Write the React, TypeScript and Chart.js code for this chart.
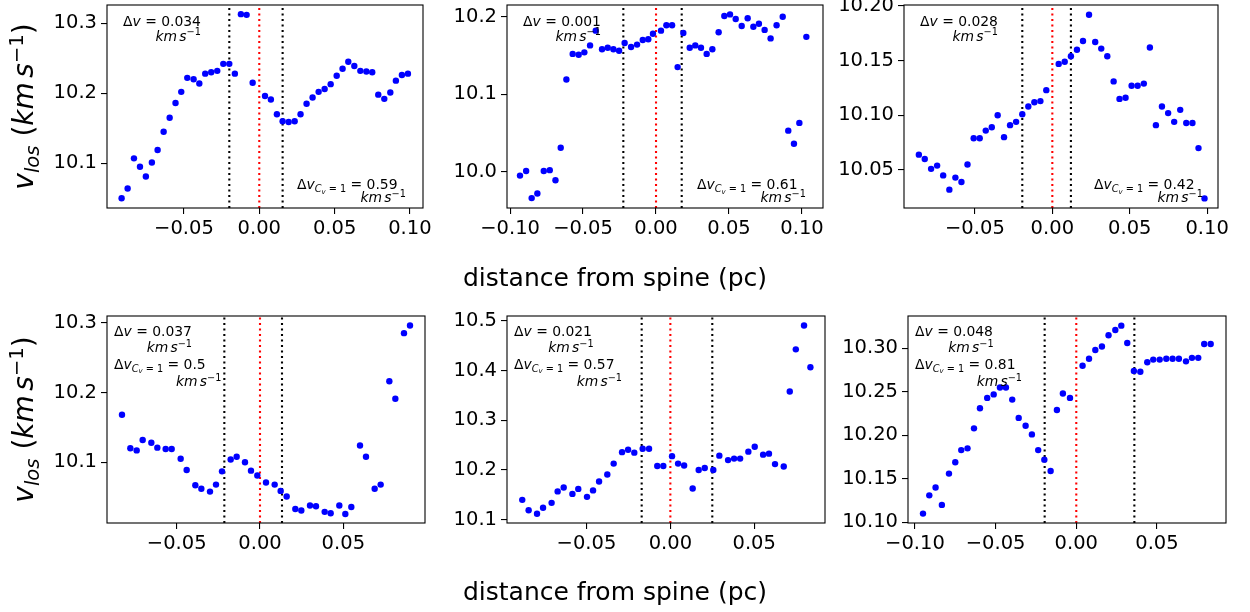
import React, { useEffect, useRef } from 'react';
import { Chart, registerables } from 'chart.js';

Chart.register(...registerables);

const FONT = '"DejaVu Sans", "Liberation Sans", sans-serif';

// ---------------- data ----------------
const p1X = [-0.0914,-0.0874,-0.0832,-0.0792,-0.0753,-0.0713,-0.0675,-0.0635,-0.0595,-0.0556,-0.0518,-0.0478,-0.0436,-0.0398,-0.0359,-0.0319,-0.0279,-0.0239,-0.0199,-0.0162,-0.0122,-0.0084,-0.0044,0.0038,0.0077,0.0117,0.0155,0.0195,0.0235,0.0274,0.0314,0.0354,0.0394,0.0434,0.0474,0.0514,0.0553,0.0591,0.0631,0.0671,0.0711,0.0750,0.0790,0.0830,0.0870,0.0907,0.0947,0.0987];
const p1Y = [10.050,10.064,10.107,10.095,10.081,10.101,10.119,10.145,10.165,10.186,10.202,10.222,10.220,10.214,10.228,10.230,10.232,10.242,10.242,10.228,10.313,10.312,10.215,10.196,10.191,10.170,10.160,10.159,10.160,10.170,10.185,10.194,10.202,10.206,10.213,10.225,10.235,10.245,10.239,10.232,10.231,10.230,10.198,10.192,10.201,10.218,10.226,10.228];

const p2X = [-0.0932,-0.0890,-0.0852,-0.0813,-0.0769,-0.0728,-0.0689,-0.0653,-0.0614,-0.0571,-0.0530,-0.0491,-0.0452,-0.0413,-0.0370,-0.0331,-0.0292,-0.0253,-0.0215,-0.0171,-0.0130,-0.0091,-0.0053,-0.0021,0.0034,0.0071,0.0110,0.0148,0.0187,0.0231,0.0269,0.0308,0.0347,0.0386,0.0429,0.0468,0.0507,0.0546,0.0587,0.0628,0.0667,0.0705,0.0744,0.0785,0.0826,0.0868,0.0906,0.0945,0.0982,0.1030];
const p2Y = [9.995,10.001,9.966,9.972,10.001,10.002,9.989,10.031,10.119,10.152,10.151,10.154,10.163,10.182,10.158,10.160,10.158,10.156,10.166,10.161,10.164,10.170,10.171,10.178,10.182,10.189,10.189,10.135,10.179,10.160,10.163,10.160,10.152,10.158,10.180,10.201,10.203,10.197,10.188,10.198,10.187,10.191,10.183,10.172,10.189,10.200,10.053,10.036,10.063,10.174];

const p3X = [-0.0862,-0.0824,-0.0783,-0.0744,-0.0705,-0.0665,-0.0626,-0.0587,-0.0548,-0.0508,-0.0469,-0.0430,-0.0391,-0.0353,-0.0312,-0.0273,-0.0234,-0.0194,-0.0155,-0.0116,-0.0077,-0.0039,0.0041,0.0080,0.0120,0.0159,0.0198,0.0237,0.0277,0.0316,0.0355,0.0396,0.0434,0.0473,0.0512,0.0551,0.0591,0.0630,0.0669,0.0708,0.0748,0.0787,0.0826,0.0865,0.0905,0.0944,0.0983];
const p3Y = [10.064,10.060,10.051,10.054,10.045,10.032,10.043,10.039,10.055,10.079,10.079,10.086,10.089,10.100,10.080,10.091,10.094,10.101,10.108,10.112,10.113,10.123,10.147,10.149,10.154,10.160,10.168,10.192,10.167,10.161,10.154,10.131,10.115,10.116,10.127,10.127,10.129,10.162,10.091,10.108,10.102,10.094,10.105,10.093,10.093,10.070,10.024];

const p4X = [-0.0828,-0.0778,-0.0740,-0.0704,-0.0652,-0.0616,-0.0566,-0.0530,-0.0476,-0.0440,-0.0388,-0.0352,-0.0300,-0.0264,-0.0228,-0.0176,-0.0140,-0.0090,-0.0054,-0.0016,0.0036,0.0088,0.0124,0.0160,0.0212,0.0248,0.0300,0.0336,0.0388,0.0424,0.0476,0.0512,0.0548,0.0600,0.0636,0.0688,0.0724,0.0776,0.0812,0.0864,0.0900];
const p4Y = [10.168,10.120,10.117,10.132,10.128,10.121,10.119,10.119,10.105,10.089,10.067,10.062,10.058,10.068,10.087,10.104,10.108,10.100,10.088,10.081,10.071,10.068,10.059,10.051,10.033,10.031,10.038,10.037,10.029,10.027,10.038,10.026,10.036,10.124,10.108,10.062,10.068,10.216,10.191,10.285,10.296];

const p5X = [-0.0883,-0.0845,-0.0795,-0.0759,-0.0708,-0.0672,-0.0636,-0.0584,-0.0549,-0.0497,-0.0461,-0.0425,-0.0376,-0.0338,-0.0288,-0.0252,-0.0215,-0.0165,-0.0127,-0.0078,-0.0042,0.0010,0.0046,0.0082,0.0133,0.0169,0.0205,0.0256,0.0292,0.0344,0.0380,0.0416,0.0465,0.0503,0.0553,0.0588,0.0624,0.0676,0.0712,0.0748,0.0797,0.0835];
const p5Y = [10.140,10.119,10.112,10.124,10.134,10.157,10.165,10.152,10.162,10.146,10.159,10.177,10.191,10.213,10.236,10.241,10.235,10.243,10.243,10.208,10.208,10.228,10.213,10.209,10.163,10.200,10.204,10.200,10.229,10.220,10.223,10.223,10.237,10.247,10.231,10.233,10.212,10.207,10.358,10.443,10.491,10.407];

const p6X = [-0.0950,-0.0911,-0.0872,-0.0833,-0.0789,-0.0750,-0.0713,-0.0674,-0.0634,-0.0597,-0.0552,-0.0512,-0.0473,-0.0436,-0.0397,-0.0357,-0.0314,-0.0275,-0.0236,-0.0198,-0.0159,-0.0120,-0.0083,-0.0039,0.0039,0.0079,0.0118,0.0159,0.0200,0.0242,0.0279,0.0316,0.0357,0.0397,0.0440,0.0477,0.0517,0.0558,0.0597,0.0636,0.0680,0.0717,0.0756,0.0793,0.0833];
const p6Y = [10.110,10.131,10.140,10.120,10.156,10.169,10.183,10.185,10.208,10.231,10.243,10.247,10.255,10.255,10.241,10.220,10.211,10.201,10.183,10.172,10.159,10.229,10.248,10.243,10.280,10.288,10.298,10.302,10.315,10.321,10.326,10.306,10.274,10.273,10.284,10.287,10.287,10.288,10.288,10.288,10.285,10.289,10.289,10.305,10.305];

// spine boundaries (black dotted) per panel; red dotted line at the spine (0)
const spineEdges = [
  [-0.0199, 0.0155],
  [-0.0224, 0.0176],
  [-0.0194, 0.0120],
  [-0.0214, 0.0132],
  [-0.0171, 0.0250],
  [-0.0196, 0.0360],
];
const spineCenter = 0;

const deltaV = ['0.034', '0.001', '0.028', '0.037', '0.021', '0.048'];
const deltaVCv = ['0.59', '0.61', '0.42', '0.5', '0.57', '0.81'];

// tick values / labels
const xTicks4 = [-0.05, 0, 0.05, 0.1];
const xTickLabels4 = ['\u22120.05', '0.00', '0.05', '0.10'];
const xTicks5 = [-0.1, -0.05, 0, 0.05, 0.1];
const xTickLabels5 = ['\u22120.10', '\u22120.05', '0.00', '0.05', '0.10'];
const xTicks3 = [-0.05, 0, 0.05];
const xTickLabels3 = ['\u22120.05', '0.00', '0.05'];
const xTicks6 = [-0.1, -0.05, 0, 0.05];
const xTickLabels6 = ['\u22120.10', '\u22120.05', '0.00', '0.05'];

const yTicks1 = [10.1, 10.2, 10.3];
const yTickLabels1 = ['10.1', '10.2', '10.3'];
const yTicks2 = [10.0, 10.1, 10.2];
const yTickLabels2 = ['10.0', '10.1', '10.2'];
const yTicks3 = [10.05, 10.1, 10.15, 10.2];
const yTickLabels3 = ['10.05', '10.10', '10.15', '10.20'];
const yTicks4 = [10.1, 10.2, 10.3];
const yTickLabels4 = ['10.1', '10.2', '10.3'];
const yTicks5 = [10.1, 10.2, 10.3, 10.4, 10.5];
const yTickLabels5 = ['10.1', '10.2', '10.3', '10.4', '10.5'];
const yTicks6 = [10.1, 10.15, 10.2, 10.25, 10.3];
const yTickLabels6 = ['10.10', '10.15', '10.20', '10.25', '10.30'];

const xAxisTitle = 'distance from spine (pc)';

// ---------------- text helpers ----------------
type Part = { t: string; it?: boolean; s?: number; dy?: number };

function partsWidth(ctx: CanvasRenderingContext2D, parts: Part[], size: number) {
  let w = 0;
  for (const p of parts) {
    ctx.font = `${p.it ? 'italic ' : ''}${size * (p.s ?? 1)}px ${FONT}`;
    w += ctx.measureText(p.t).width;
  }
  return w;
}
function drawParts(ctx: CanvasRenderingContext2D, parts: Part[], x: number, y: number, size: number) {
  let cx = x;
  ctx.textAlign = 'left';
  ctx.textBaseline = 'alphabetic';
  ctx.fillStyle = '#000';
  for (const p of parts) {
    ctx.font = `${p.it ? 'italic ' : ''}${size * (p.s ?? 1)}px ${FONT}`;
    ctx.fillText(p.t, cx, y + (p.dy ?? 0) * size);
    cx += ctx.measureText(p.t).width;
  }
}

const dvParts = (v: string): Part[] => [{ t: '\u0394' }, { t: 'v', it: true }, { t: ' = ' + v }];
const kmParts: Part[] = [
  { t: 'km', it: true },
  { t: ' ', s: 0.5 },
  { t: 's', it: true },
  { t: '\u22121', s: 0.7, dy: -0.36 },
];
const dvcParts = (v: string): Part[] => [
  { t: '\u0394' },
  { t: 'v', it: true },
  { t: 'C', it: true, s: 0.7, dy: 0.2 },
  { t: 'v', it: true, s: 0.5, dy: 0.32 },
  { t: ' = 1', s: 0.7, dy: 0.2 },
  { t: ' = ' + v },
];
const yLabelParts: Part[] = [
  { t: 'v', it: true },
  { t: 'los', it: true, s: 0.7, dy: 0.2 },
  { t: ' (' },
  { t: 'km', it: true },
  { t: ' ', s: 0.5 },
  { t: 's', it: true },
  { t: '\u22121', s: 0.7, dy: -0.36 },
  { t: ')' },
];

// ---------------- panels ----------------
type Note = { dx: number; dy: number; parts: Part[] };
interface Panel {
  xs: number[]; ys: number[];
  l: number; t: number; w: number; h: number; axisW: number;
  xMin: number; xMax: number; yMin: number; yMax: number;
  xTicks: number[]; xLabels: string[]; yTicks: number[]; yLabels: string[];
  edges: number[];
  notes: Note[];
  yTitleY?: number; // page y of y-title center
  xTitleY?: number; // page baseline of x-title
}

const topNotes = (i: number): Note[] => [
  { dx: 16, dy: 20.5, parts: dvParts(deltaV[i]) },
  { dx: 48.5, dy: 35.5, parts: kmParts },
  { dx: 190, dy: 184.3, parts: dvcParts(deltaVCv[i]) },
  { dx: 253.5, dy: 196.7, parts: kmParts },
];
const botNotes = (i: number, k1: number, k2: number): Note[] => [
  { dx: 7, dy: 20.3, parts: dvParts(deltaV[i]) },
  { dx: k1, dy: 36.3, parts: kmParts },
  { dx: 7, dy: 52.8, parts: dvcParts(deltaVCv[i]) },
  { dx: k2, dy: 70, parts: kmParts },
];

const panels: Panel[] = [
  { xs: p1X, ys: p1Y, l: 107, t: 5, w: 316, h: 203, axisW: 107, xMin: -0.1011, xMax: 0.1087, yMin: 10.0361, yMax: 10.3261,
    xTicks: xTicks4, xLabels: xTickLabels4, yTicks: yTicks1, yLabels: yTickLabels1, edges: spineEdges[0], notes: topNotes(0), yTitleY: 106.5 },
  { xs: p2X, ys: p2Y, l: 507, t: 5, w: 316, h: 203, axisW: 80, xMin: -0.1021, xMax: 0.1144, yMin: 9.9532, yMax: 10.2151,
    xTicks: xTicks5, xLabels: xTickLabels5, yTicks: yTicks2, yLabels: yTickLabels2, edges: spineEdges[1], notes: topNotes(1), xTitleY: 286 },
  { xs: p3X, ys: p3Y, l: 904, t: 5, w: 314, h: 203, axisW: 80, xMin: -0.0958, xMax: 0.1070, yMin: 10.0152, yMax: 10.2009,
    xTicks: xTicks4, xLabels: xTickLabels4, yTicks: yTicks3, yLabels: yTickLabels3, edges: spineEdges[2], notes: topNotes(2) },
  { xs: p4X, ys: p4Y, l: 107, t: 316, w: 318, h: 207, axisW: 107, xMin: -0.0918, xMax: 0.0990, yMin: 10.0130, yMax: 10.3096,
    xTicks: xTicks3, xLabels: xTickLabels3, yTicks: yTicks4, yLabels: yTickLabels4, edges: spineEdges[3], notes: botNotes(3, 39.7, 69), yTitleY: 419.5 },
  { xs: p5X, ys: p5Y, l: 507, t: 316, w: 318, h: 207, axisW: 80, xMin: -0.0974, xMax: 0.0922, yMin: 10.0934, yMax: 10.5101,
    xTicks: xTicks3, xLabels: xTickLabels3, yTicks: yTicks5, yLabels: yTickLabels5, edges: spineEdges[4], notes: botNotes(4, 41.3, 69.7), xTitleY: 600 },
  { xs: p6X, ys: p6Y, l: 908, t: 316, w: 318, h: 207, axisW: 80, xMin: -0.1043, xMax: 0.0928, yMin: 10.0992, yMax: 10.3371,
    xTicks: xTicks6, xLabels: xTickLabels6, yTicks: yTicks6, yLabels: yTickLabels6, edges: spineEdges[5], notes: botNotes(5, 40.3, 68.7) },
];

const PAD_T = 20;
const PAD_R = 40;
const AXIS_H = 95;
const TICK_FONT = 19.5;
const NOTE_FONT = 13.9;
const YTITLE_FONT = 28;
const XTITLE_FONT = 25;
const XTITLE_CX = 615;
const YTITLE_X = 33;

function PanelChart({ p }: { p: Panel }) {
  const ref = useRef<HTMLCanvasElement>(null);
  const cw = p.axisW + p.w + PAD_R;
  const ch = PAD_T + p.h + AXIS_H;
  const cl = p.l - p.axisW;
  const ct = p.t - PAD_T;

  useEffect(() => {
    const canvas = ref.current!;
    const vline = (ctx: CanvasRenderingContext2D, x: number, top: number, bottom: number, color: string) => {
      ctx.save();
      ctx.strokeStyle = color;
      ctx.lineWidth = 2.1;
      ctx.setLineDash([2.1, 3.4]);
      ctx.beginPath();
      ctx.moveTo(x, bottom);
      ctx.lineTo(x, top);
      ctx.stroke();
      ctx.restore();
    };
    const plugin = {
      id: 'panelDecor',
      beforeDatasetsDraw(chart: any) {
        const { ctx, chartArea: a, scales } = chart;
        for (const e of p.edges) vline(ctx, scales.x.getPixelForValue(e), a.top, a.bottom, '#000000');
        vline(ctx, scales.x.getPixelForValue(spineCenter), a.top, a.bottom, '#ff0000');
      },
      afterDraw(chart: any) {
        const { ctx, chartArea: a } = chart;
        ctx.save();
        ctx.strokeStyle = '#000';
        ctx.lineWidth = 1.1;
        ctx.setLineDash([]);
        ctx.strokeRect(a.left, a.top, a.right - a.left, a.bottom - a.top);
        for (const n of p.notes) drawParts(ctx, n.parts, a.left + n.dx, a.top + n.dy, NOTE_FONT);
        if (p.yTitleY !== undefined) {
          ctx.save();
          ctx.translate(YTITLE_X - cl, p.yTitleY - ct);
          ctx.rotate(-Math.PI / 2);
          const w = partsWidth(ctx, yLabelParts, YTITLE_FONT);
          drawParts(ctx, yLabelParts, -w / 2, 0, YTITLE_FONT);
          ctx.restore();
        }
        if (p.xTitleY !== undefined) {
          ctx.font = `${XTITLE_FONT}px ${FONT}`;
          ctx.fillStyle = '#000';
          ctx.textAlign = 'center';
          ctx.textBaseline = 'alphabetic';
          ctx.fillText(xAxisTitle, XTITLE_CX - cl, p.xTitleY - ct);
        }
        ctx.restore();
      },
    };

    const chart = new Chart(canvas, {
      type: 'scatter',
      data: {
        datasets: [
          {
            data: p.xs.map((x, i) => ({ x, y: p.ys[i] })),
            pointRadius: 3.2,
            pointHoverRadius: 3.2,
            pointBackgroundColor: '#0000ff',
            pointBorderWidth: 0,
            borderColor: '#0000ff',
            showLine: false,
          },
        ],
      },
      options: {
        animation: false,
        responsive: false,
        devicePixelRatio: 1,
        events: [],
        layout: { padding: { top: PAD_T, right: PAD_R, left: 0, bottom: 0 } },
        plugins: { legend: { display: false }, tooltip: { enabled: false } },
        scales: {
          x: {
            type: 'linear',
            min: p.xMin,
            max: p.xMax,
            afterFit: (s: any) => { s.height = AXIS_H; },
            afterBuildTicks: (s: any) => { s.ticks = p.xTicks.map((v) => ({ value: v })); },
            border: { display: false },
            grid: { drawOnChartArea: false, drawTicks: true, tickLength: 6, color: '#000', lineWidth: 1.1 },
            ticks: {
              autoSkip: false,
              maxRotation: 0,
              minRotation: 0,
              padding: 3,
              color: '#000',
              font: { family: FONT, size: TICK_FONT },
              callback: (_v: any, i: number) => p.xLabels[i],
            },
          },
          y: {
            type: 'linear',
            min: p.yMin,
            max: p.yMax,
            afterFit: (s: any) => { s.width = p.axisW; },
            afterBuildTicks: (s: any) => { s.ticks = p.yTicks.map((v) => ({ value: v })); },
            border: { display: false },
            grid: { drawOnChartArea: false, drawTicks: true, tickLength: 6, color: '#000', lineWidth: 1.1 },
            ticks: {
              autoSkip: false,
              padding: 4,
              color: '#000',
              font: { family: FONT, size: TICK_FONT },
              callback: (_v: any, i: number) => p.yLabels[i],
            },
          },
        },
      },
      plugins: [plugin],
    } as any);
    return () => chart.destroy();
  }, [p]);

  return (
    <canvas
      ref={ref}
      width={cw}
      height={ch}
      style={{ position: 'absolute', left: cl, top: ct, width: cw, height: ch }}
    />
  );
}

export default function App() {
  return (
    <div
      style={{
        position: 'fixed',
        left: 0,
        top: 0,
        width: 1250,
        height: 612,
        overflow: 'hidden',
        background: '#fff',
      }}
    >
      {panels.map((p, i) => (
        <PanelChart key={i} p={p} />
      ))}
    </div>
  );
}
